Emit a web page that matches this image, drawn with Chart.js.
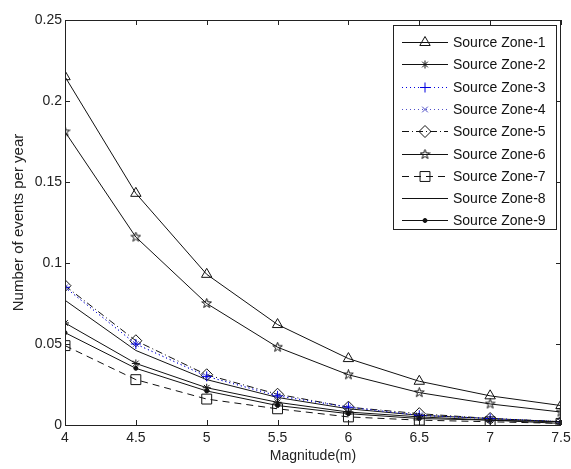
<!DOCTYPE html>
<html>
<head>
<meta charset="utf-8">
<script src="https://cdn.jsdelivr.net/npm/chart.js@4/dist/chart.umd.min.js"></script>
<style>
  html, body { margin: 0; padding: 0; background: #fff; }
  #wrap { width: 571px; height: 469px; }
</style>
</head>
<body>
<div id="wrap"><canvas id="c" width="571" height="469"></canvas></div>
<script>
const magnitudes = [4, 4.5, 5, 5.5, 6, 6.5, 7, 7.5];
const yTicks = [0, 0.05, 0.1, 0.15, 0.2, 0.25];
const zone1 = [0.215, 0.143, 0.093, 0.062, 0.041, 0.027, 0.018, 0.012];
const zone2 = [0.063, 0.038, 0.023, 0.014, 0.008, 0.005, 0.003, 0.002];
const zone3 = [0.085, 0.050, 0.030, 0.018, 0.011, 0.006, 0.004, 0.002];
const zone4 = [0.085, 0.050, 0.030, 0.018, 0.011, 0.006, 0.004, 0.002];
const zone5 = [0.086, 0.052, 0.031, 0.019, 0.011, 0.007, 0.004, 0.002];
const zone6 = [0.181, 0.116, 0.075, 0.048, 0.031, 0.020, 0.013, 0.008];
const zone7 = [0.049, 0.028, 0.016, 0.010, 0.005, 0.003, 0.002, 0.001];
const zone8 = [0.077, 0.046, 0.028, 0.017, 0.010, 0.006, 0.004, 0.002];
const zone9 = [0.057, 0.035, 0.021, 0.012, 0.007, 0.004, 0.003, 0.001];
const zoneNames = ["Source Zone-1", "Source Zone-2", "Source Zone-3", "Source Zone-4",
  "Source Zone-5", "Source Zone-6", "Source Zone-7", "Source Zone-8", "Source Zone-9"];

const FONT = "'Liberation Sans', Arial, sans-serif";

// hollow pentagram marker for zone 6
function pentagram(size) {
  const cv = document.createElement("canvas");
  cv.width = size; cv.height = size;
  const g = cv.getContext("2d");
  const cx = size / 2, cy = size / 2, R = size / 2 - 0.5, r = R * 0.4;
  g.beginPath();
  for (let i = 0; i < 10; i++) {
    const a = -Math.PI / 2 + i * Math.PI / 5;
    const rr = i % 2 ? r : R;
    const px = cx + rr * Math.cos(a), py = cy + rr * Math.sin(a);
    i ? g.lineTo(px, py) : g.moveTo(px, py);
  }
  g.closePath();
  g.strokeStyle = "#111"; g.lineWidth = 1;
  g.stroke();
  return cv;
}
const star5 = pentagram(11);

const pts = v => v.map((y, i) => ({ x: magnitudes[i], y }));
function ds(i, data, color, dash, pointStyle, radius, fill) {
  return {
    label: zoneNames[i], data: pts(data), borderColor: color, borderWidth: 1,
    borderDash: dash, pointStyle: pointStyle, pointRadius: radius,
    pointBorderColor: color, pointBackgroundColor: fill || "rgba(0,0,0,0)",
    pointBorderWidth: 1, tension: 0, fill: false
  };
}

const datasets = [
  ds(0, zone1, "#111", [], "triangle", 6),
  ds(1, zone2, "#111", [], "star", 4),
  ds(2, zone3, "#0000e0", [1, 3], "cross", 5),
  ds(3, zone4, "#5050c8", [1, 3], "crossRot", 4),
  ds(4, zone5, "#111", [7, 3, 1, 3], "rectRot", 6),
  ds(5, zone6, "#111", [], star5, 5),
  ds(6, zone7, "#111", [7, 5], "rect", 7),
  ds(7, zone8, "#111", [], false, 0),
  ds(8, zone9, "#111", [], "circle", 2, "#111")
];

const framePlugin = {
  id: "frame",
  afterDraw(chart) {
    const { ctx, chartArea: a, scales } = chart;
    ctx.save();
    ctx.strokeStyle = "#222"; ctx.lineWidth = 1; ctx.setLineDash([]);
    ctx.strokeRect(a.left + 0.5, a.top + 0.5, a.right - a.left - 1, a.bottom - a.top);
    ctx.beginPath();
    magnitudes.forEach(m => {
      const x = Math.round(scales.x.getPixelForValue(m)) + 0.5;
      ctx.moveTo(x, a.bottom); ctx.lineTo(x, a.bottom - 5);
      ctx.moveTo(x, a.top); ctx.lineTo(x, a.top + 5);
    });
    yTicks.forEach(v => {
      const y = Math.round(scales.y.getPixelForValue(v)) + 0.5;
      ctx.moveTo(a.left, y); ctx.lineTo(a.left + 5, y);
      ctx.moveTo(a.right, y); ctx.lineTo(a.right - 5, y);
    });
    ctx.stroke();

    // legend box
    const bx = 393, by = 25, bw = 163, bh = 204;
    ctx.fillStyle = "#fff";
    ctx.fillRect(bx, by, bw, bh);
    ctx.strokeRect(bx + 0.5, by + 0.5, bw, bh);
    ctx.font = "14px " + FONT;
    ctx.textBaseline = "middle";
    chart.data.datasets.forEach((d, i) => {
      const y = Math.round(42 + i * 22.3) + 0.5;
      ctx.strokeStyle = d.borderColor;
      ctx.lineWidth = 1;
      ctx.setLineDash(d.borderDash || []);
      ctx.beginPath(); ctx.moveTo(402, y); ctx.lineTo(448, y); ctx.stroke();
      ctx.setLineDash([]);
      if (d.pointStyle && d.pointRadius > 0) {
        ctx.fillStyle = d.pointBackgroundColor;
        ctx.strokeStyle = d.pointBorderColor;
        Chart.helpers.drawPoint(ctx, { pointStyle: d.pointStyle, radius: d.pointRadius, rotation: 0, borderWidth: 1 }, 425, y);
      }
      ctx.fillStyle = "#111";
      ctx.fillText(d.label, 453, y + 1);
    });
    ctx.restore();
  }
};

new Chart(document.getElementById("c"), {
  type: "line",
  data: { datasets },
  plugins: [framePlugin],
  options: {
    responsive: false, animation: false,
    layout: { padding: { top: 20, right: 10, left: 0, bottom: 0 } },
    plugins: { legend: { display: false }, tooltip: { enabled: false } },
    scales: {
      x: {
        type: "linear", min: 4, max: 7.5,
        afterBuildTicks: s => { s.ticks = magnitudes.map(v => ({ value: v })); },
        afterFit: s => { s.height = 44; s.paddingLeft = 0; s.paddingRight = 0; },
        grid: { display: false, drawTicks: false },
        border: { display: false },
        ticks: { padding: 5, color: "#222", font: { family: FONT, size: 14 }, maxRotation: 0,
          callback: v => String(v) },
        title: { display: true, text: "Magnitude(m)", color: "#222", padding: { top: 0, bottom: 4 },
          font: { family: FONT, size: 14 } }
      },
      y: {
        min: 0, max: 0.25,
        afterBuildTicks: s => { s.ticks = yTicks.map(v => ({ value: v })); },
        afterFit: s => { s.width = 65; s.paddingTop = 0; s.paddingBottom = 0; },
        grid: { display: false, drawTicks: false },
        border: { display: false },
        ticks: { padding: 3, color: "#222", font: { family: FONT, size: 14 },
          callback: v => String(+v.toFixed(2)) },
        title: { display: true, text: "Number of events per year", color: "#222", padding: { top: 10, bottom: 0 },
          font: { family: FONT, size: 15 } }
      }
    }
  }
});
</script>
</body>
</html>
